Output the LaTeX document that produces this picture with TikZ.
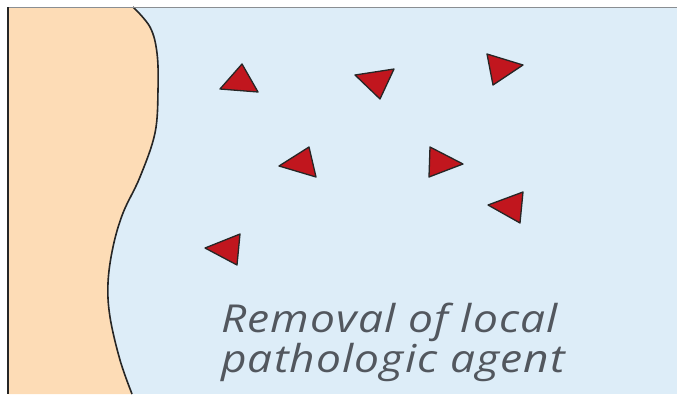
\documentclass[tikz,border=0pt]{standalone}
\usepackage{fontspec}
\setmainfont{Open Sans}
\newfontfamily\lblfont[LetterSpace=3,FakeStretch=1.15]{Open Sans}
\definecolor{bluebg}{HTML}{DDEDF8}
\definecolor{skin}{HTML}{FDDCB6}
\definecolor{agentred}{HTML}{C1161E}
\definecolor{txtgray}{HTML}{52575E}
\definecolor{framegray}{HTML}{8A8E92}
\tikzset{
  agent/.style={fill=agentred, draw=black!85, line width=1.3pt, line join=round},
  label/.style={anchor=base west, text=txtgray, inner sep=0pt,
    font=\lblfont\itshape\fontsize{38.5}{42}\selectfont},
}
\begin{document}
\begin{tikzpicture}[x=1pt,y=-1pt]
\useasboundingbox (0,0) rectangle (677,394);
\fill[white] (0,0) rectangle (677,394);
\fill[bluebg] (8,7) rectangle (677,394);
% tissue region
\fill[skin] (8,7) -- plot[smooth, tension=0.6] coordinates {(133,7) (150,27) (157,53) (158,90) (155,133) (140,177) (123,213) (113,247) (108,283) (110,317) (120,360) (132,394)} -- (8,394) -- cycle;
\draw[black!85, line width=1.6pt] plot[smooth, tension=0.6] coordinates {(133,7) (150,27) (157,53) (158,90) (155,133) (140,177) (123,213) (113,247) (108,283) (110,317) (120,360) (132,394)};
% frame
\draw[framegray, line width=1pt] (8,7) -- (677,7);
\draw[black!85, line width=1.2pt] (8,7) -- (8,394);
% agents
\draw[agent] (242,64) -- (220,89) -- (258,92) -- cycle;
\draw[agent] (355,75) -- (394,69) -- (380,99) -- cycle;
\draw[agent] (487,54) -- (523,65) -- (493,85) -- cycle;
\draw[agent] (309,147) -- (279,166) -- (316,177) -- cycle;
\draw[agent] (430,147) -- (463,164) -- (429,177) -- cycle;
\draw[agent] (523,192) -- (488,205) -- (520,223) -- cycle;
\draw[agent] (240,234) -- (205,248) -- (237,265) -- cycle;
% label
\node[label] (lbl1) at (221,332) {Removal of local};
\node[label] (lbl2) at (221,372) {pathologic agent};
\end{tikzpicture}
\end{document}
